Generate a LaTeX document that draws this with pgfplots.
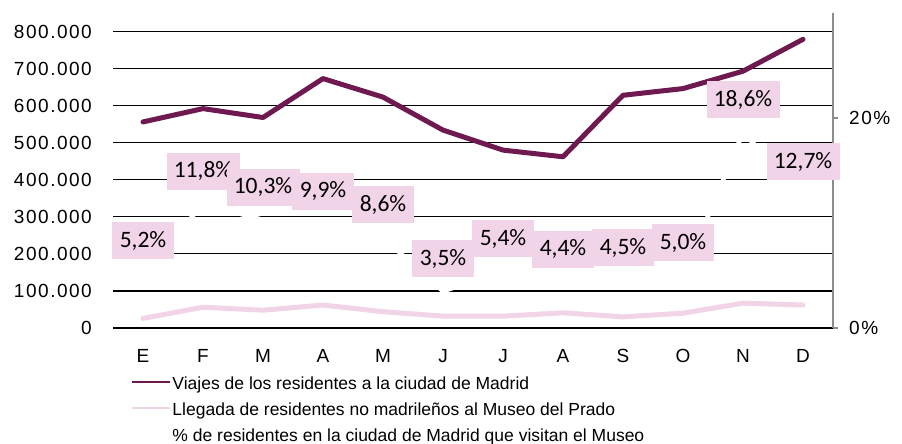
\documentclass[border=0pt]{standalone}
\usepackage{fontspec}
\setmainfont{Liberation Sans}
\newfontfamily\tickfont[LetterSpace=8]{Liberation Sans}
\newfontfamily\labelfont{Carlito}
\usepackage{pgfplots}
\pgfplotsset{compat=1.18}
\definecolor{vpurple}{RGB}{110,26,80}
\definecolor{vpink}{RGB}{242,212,232}
\definecolor{lblpink}{RGB}{242,212,232}
\begin{document}
\begin{tikzpicture}[x=1bp,y=1bp]
\useasboundingbox (0,0) rectangle (902,444);
\begin{axis}[
  at={(113bp,116bp)}, anchor=south west,
  scale only axis, width=720bp, height=315bp,
  xmin=-0.5, xmax=11.5, ymin=0, ymax=850000,
  xtick={0,...,11}, xticklabels={E,F,M,A,M,J,J,A,S,O,N,D},
  ytick={0,100000,...,800000},
  scaled y ticks=false,
  /pgf/number format/assume math mode=true,
  y tick label style={/pgf/number format/fixed, /pgf/number format/precision=0, /pgf/number format/1000 sep={.}},
  ymajorgrids, grid style={black, line width=1.2bp},
  major tick length=0pt,
  axis line style={draw=none},
  tick label style={font=\tickfont\fontsize{19bp}{22bp}\selectfont},
  yticklabel style={anchor=east, inner sep=0pt, xshift=-21bp},
  xticklabel style={anchor=base, inner sep=0pt, yshift=-35bp},
  clip=false,
]
\addplot[vpink, line width=5bp, line join=round, line cap=round] coordinates {
  (0,26000) (1,56000) (2,48000) (3,62000) (4,44000) (5,32000)
  (6,32000) (7,41000) (8,30000) (9,40000) (10,67000) (11,62000)};
\addplot[vpurple, line width=5bp, line join=round, line cap=round] coordinates {
  (0,556000) (1,592000) (2,568000) (3,673000) (4,623000) (5,534000)
  (6,480000) (7,462000) (8,628000) (9,646000) (10,693000) (11,779000)};
\end{axis}
\begin{axis}[
  at={(113bp,116bp)}, anchor=south west,
  scale only axis, width=720bp, height=315bp,
  xmin=-0.5, xmax=11.5, ymin=0, ymax=30,
  axis x line=none, axis y line*=right,
  ytick={0,20}, yticklabels={0\%,20\%},
  y axis line style={color=gray!90, line width=1.3bp},
  ytick style={color=gray!90, line width=1.3bp},
  tick align=outside, major tick length=5bp,
  tick label style={font=\tickfont\fontsize{19bp}{22bp}\selectfont},
  yticklabel style={anchor=west, inner sep=0pt, xshift=11bp},
  clip=false,
  /pgf/number format/assume math mode=true,
  legend cell align=left,
  legend image code/.code={\draw[#1] (0bp,0bp) -- (38bp,0bp);},
  legend style={at={(axis description cs:0.0236,-0.144)}, anchor=north west,
    draw=none, fill=none, inner sep=0pt, outer sep=0pt, row sep=8bp,
    font=\fontsize{17.5bp}{20bp}\selectfont,
    nodes={inner sep=0pt, text height=16bp, text depth=2bp},
    /tikz/every odd column/.append style={column sep=0bp}},
]
\addlegendimage{vpurple, line width=2bp}
\addlegendentry{Viajes de los residentes a la ciudad de Madrid}
\addlegendimage{vpink, line width=2bp}
\addlegendentry{Llegada de residentes no madrileños al Museo del Prado}
\addplot[white, line width=4.5bp, line join=round,
  point meta=y,
  nodes near coords={\pgfmathprintnumber[fixed,fixed zerofill,precision=1,use comma]{\pgfplotspointmeta}\%},
  every node near coord/.append style={anchor=south, yshift=12bp, fill=lblpink,
    text=black, inner xsep=7.3bp, inner ysep=0pt, minimum height=37bp,
    font=\labelfont\fontsize{23.5bp}{26bp}\selectfont}
] coordinates {
  (0,5.2) (1,11.8) (2,10.3) (3,9.9) (4,8.6) (5,3.5)
  (6,5.4) (7,4.4) (8,4.5) (9,5.0) (10,18.6) (11,12.7)};
\addlegendentry{\% de residentes en la ciudad de Madrid que visitan el Museo}
\end{axis}
\end{tikzpicture}
\end{document}
